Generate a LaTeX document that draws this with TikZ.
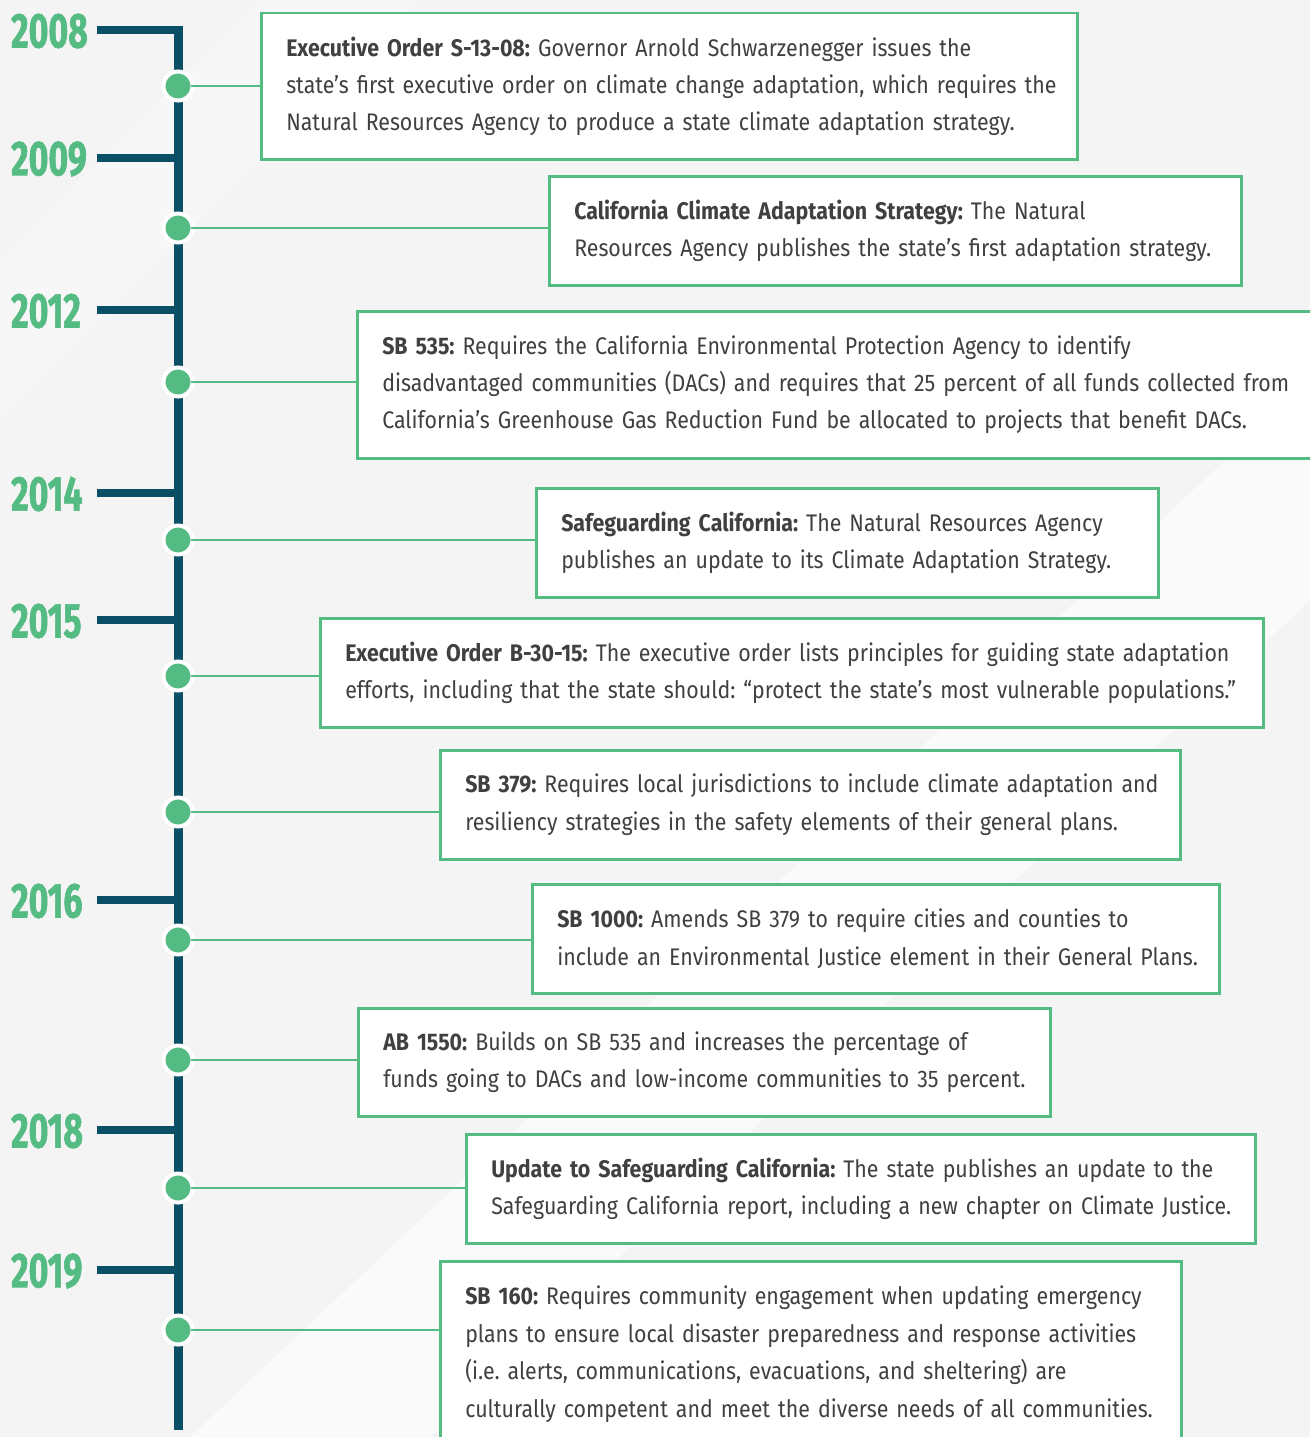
\documentclass[tikz,border=0pt]{standalone}
\usepackage{fontspec}
\setmainfont[FakeStretch=0.89]{Fira Sans}
\newfontfamily\yearfont[FakeStretch=0.69,FakeBold=1.2]{Fira Sans}
\usepackage{tikz}
\usetikzlibrary{calc,positioning}
\frenchspacing

\definecolor{tlgreen}{RGB}{84,187,131}
\definecolor{tlteal}{RGB}{11,79,103}
\definecolor{tltext}{RGB}{64,64,64}
\definecolor{tlback}{RGB}{244,244,244}

\begin{document}
\begin{tikzpicture}[x=1pt,y=-1pt,
    spine/.style={draw=tlteal,line width=9pt},
    tick/.style={draw=tlteal,line width=8pt},
    dot/.style={circle,fill=tlgreen,draw=white,line width=4pt,minimum size=29pt,inner sep=0pt},
    link/.style={draw=tlgreen,line width=2.5pt},
    event/.style={draw=tlgreen,line width=2.5pt,fill=white,anchor=north west,
      align=left,inner xsep=0pt,inner ysep=0pt,text=tltext,
      execute at begin node={\leftskip=25pt},
      font=\fontsize{24}{37.4}\selectfont},
    year/.style={anchor=west,inner sep=0pt,text=tlgreen,
      font=\yearfont\bfseries\fontsize{49}{49}\selectfont}]
  \clip (0,0) rectangle (1310,1437);
  \fill[tlback] (0,0) rectangle (1310,1437);
  \fill[white,opacity=0.55] (190,1437) -- (430,1437) -- (1310,600) -- (1310,380) -- cycle;
  \fill[white,opacity=0.35] (0,260) -- (0,420) -- (420,0) -- (260,0) -- cycle;

  % spine and years
  \draw[spine] (178,26) -- (178,1430);
  \foreach \yr/\yy in {2008/30,2009/158,2012/310,2014/493,2015/620,2016/900,2018/1130,2019/1270}{
    \draw[tick] (97,\yy) -- (182,\yy);
    \node[year] (y\yr) at (11,\yy+1) {\yr};
  }

  % dots
  \foreach \i/\yy in {1/86,2/228,3/382,4/540,5/676,6/812,7/940,8/1060,9/1188,10/1330}
    \node[dot] (d\i) at (178,\yy) {};

  % events
  \node[event,text width=816pt,minimum height=146pt] (b1) at (260,12)
    {\textbf{Executive Order S-13-08:} Governor Arnold Schwarzenegger issues the\\
     state’s first executive order on climate change adaptation, which requires the\\
     Natural Resources Agency to produce a state climate adaptation strategy.};
  \node[event,text width=692pt,minimum height=109pt] (b2) at (548,175)
    {\textbf{California Climate Adaptation Strategy:} The Natural\\
     Resources Agency publishes the state’s first adaptation strategy.};
  \node[event,text width=980pt,minimum height=147pt] (b3) at (356,310)
    {\textbf{SB 535:} Requires the California Environmental Protection Agency to identify\\
     disadvantaged communities (DACs) and requires that 25 percent of all funds collected from\\
     California’s Greenhouse Gas Reduction Fund be allocated to projects that benefit DACs.};
  \node[event,text width=622pt,minimum height=109pt] (b4) at (535,487)
    {\textbf{Safeguarding California:} The Natural Resources Agency\\
     publishes an update to its Climate Adaptation Strategy.};
  \node[event,text width=943pt,minimum height=109pt] (b5) at (319,617)
    {\textbf{Executive Order B-30-15:} The executive order lists principles for guiding state adaptation\\
     efforts, including that the state should: “protect the state’s most vulnerable populations.”};
  \node[event,text width=740pt,minimum height=109pt] (b6) at (439,749)
    {\textbf{SB 379:} Requires local jurisdictions to include climate adaptation and\\
     resiliency strategies in the safety elements of their general plans.};
  \node[event,text width=687pt,minimum height=109pt] (b7) at (531,883)
    {\textbf{SB 1000:} Amends SB 379 to require cities and counties to\\
     include an Environmental Justice element in their General Plans.};
  \node[event,text width=692pt,minimum height=108pt] (b8) at (357,1007)
    {\textbf{AB 1550:} Builds on SB 535 and increases the percentage of\\
     funds going to DACs and low-income communities to 35 percent.};
  \node[event,text width=789pt,minimum height=109pt] (b9) at (465,1133)
    {\textbf{Update to Safeguarding California:} The state publishes an update to the\\
     Safeguarding California report, including a new chapter on Climate Justice.};
  \node[event,text width=741pt,minimum height=186pt] (b10) at (439,1260)
    {\textbf{SB 160:} Requires community engagement when updating emergency\\
     plans to ensure local disaster preparedness and response activities\\
     (i.e. alerts, communications, evacuations, and sheltering) are\\
     culturally competent and meet the diverse needs of all communities.};

  % links
  \foreach \i in {1,...,10}
    \draw[link] ([xshift=-4pt]d\i.east) -- (d\i -| b\i.west);
\end{tikzpicture}
\end{document}
